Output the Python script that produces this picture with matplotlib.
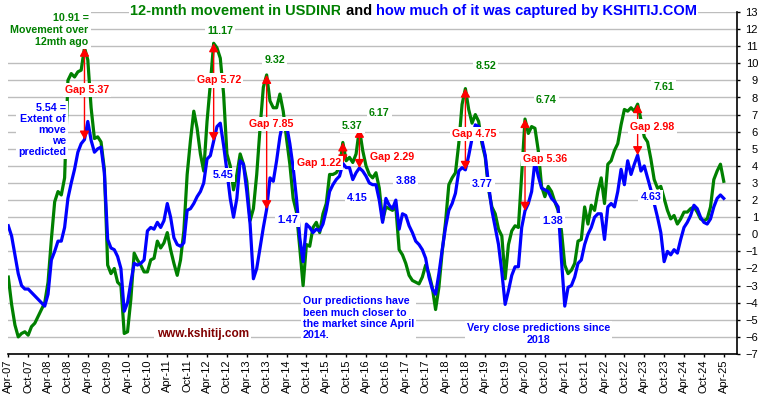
import matplotlib
matplotlib.use('Agg')
import matplotlib.pyplot as plt
import numpy as np

plt.rcParams['font.family'] = ['Liberation Sans', 'DejaVu Sans']

# 12-month movement in USDINR (green), monthly Apr-07 .. Apr-25
movement = [
    -2.5, -4.1, -5.3, -6.0, -5.8, -5.7, -5.9, -5.4, -5.2, -4.8, -4.4, -4.0,
    -2.8, -0.3, 1.9, 2.5, 2.3, 3.3, 9.0, 9.4, 9.2, 9.5, 9.6, 10.91,
    10.2, 7.4, 5.6, 5.7, 5.4, 3.8, -1.8, -2.3, -2.0, -2.8, -3.0, -5.8,
    -5.7, -3.8, -1.1, -1.5, -1.8, -2.2, -2.2, -1.5, -1.4, -0.4, -0.8, -0.5,
    0.1, -0.9, -1.7, -2.4, -1.5, 0.2, 3.5, 5.5, 7.2, 6.2, 4.7, 3.7,
    6.6, 8.8, 11.17, 10.9, 10.3, 8.2, 4.7, 4.0, 2.6, 3.5, 4.7, 4.1,
    3.1, 0.8, 1.5, 3.5, 6.2, 8.6, 9.32, 7.8, 7.4, 7.4, 8.2, 7.2,
    5.6, 4.1, 2.1, 1.3, -0.8, -3.0, -0.6, -0.7, 0.4, 0.7, 0.1, 1.2,
    1.8, 3.5, 3.5, 3.6, 3.9, 5.37, 4.3, 4.5, 4.2, 4.7, 6.17, 4.9,
    4.0, 3.5, 3.3, 3.6, 2.7, 0.8, 1.6, 1.5, 1.4, 1.6, -0.9, -1.2,
    -1.7, -2.4, -2.7, -2.8, -2.9, -2.5, -1.8, -2.3, -3.1, -4.4, -3.1, -1.0,
    0.7, 2.9, 3.3, 3.6, 5.3, 7.6, 8.52, 7.3, 6.5, 7.0, 6.6, 5.3,
    4.5, 2.6, 1.6, 1.2, 0.3, -0.1, -2.6, -0.6, 0.2, 0.5, 0.4, 3.5,
    6.74, 5.9, 6.3, 6.2, 4.9, 2.8, 2.2, 2.8, 2.5, 1.9, 1.4, 0.2,
    -1.8, -2.3, -2.1, -1.7, -0.4, -0.3, 1.6, 0.6, 1.7, 1.4, 2.5, 3.3,
    1.8, 4.1, 4.3, 4.9, 5.3, 6.4, 7.3, 7.2, 7.4, 7.2, 7.61, 6.7,
    5.7, 5.4, 4.4, 3.2, 2.7, 2.8, 2.1, 1.4, 0.9, 1.1, 0.6, 0.9,
    1.3, 1.3, 1.5, 1.6, 1.3, 0.9, 0.8, 0.9, 1.6, 3.2, 3.7, 4.1,
    3.1,
]

# Extent of move predicted by KSHITIJ (blue)
predicted = [
    0.5, -0.1, -1.2, -2.3, -3.0, -3.2, -3.2, -3.4, -3.6, -3.8, -4.0, -4.2,
    -3.5, -1.5, -1.0, -0.4, -0.4, 0.4, 2.1, 3.0, 3.8, 4.8, 5.3, 5.54,
    6.6, 5.5, 4.8, 5.0, 5.1, 3.6, -0.3, -0.8, -0.9, -1.3, -2.0, -4.5,
    -4.0, -2.8, -1.7, -1.8, -1.7, -1.5, 0.2, 0.4, 0.3, 0.7, 0.4, 0.8,
    1.8, 1.0, -0.2, -0.6, -0.7, -0.5, 1.4, 1.5, 1.8, 2.2, 2.5, 3.0,
    4.4, 4.6, 5.45, 6.3, 6.5, 5.2, 3.7, 2.1, 1.0, 2.1, 4.3, 4.1,
    2.5, 0.6, -2.6, -2.0, -0.8, 0.4, 1.47, 3.3, 3.1, 4.3, 5.7, 6.7,
    6.4, 5.3, 3.9, 2.1, -0.2, -1.6, 0.6, 0.4, 0.1, 0.3, 0.2, 0.6,
    1.4, 2.5, 2.9, 3.2, 3.4, 4.15, 3.9, 3.9, 3.2, 3.6, 3.88, 3.7,
    3.4, 3.0, 2.9, 2.9, 2.0, 0.7, 2.1, 1.7, 1.5, 2.0, 0.3, 1.2,
    1.1, 0.5, 0.1, -0.4, -0.6, -0.9, -1.4, -2.5, -3.2, -3.5, -2.3, -0.9,
    0.4, 1.4, 1.8, 2.4, 3.7, 3.9, 3.77, 4.6, 5.6, 6.4, 6.3, 5.5,
    4.6, 2.9, 1.4, 0.4, -0.6, -2.2, -4.1, -3.3, -2.4, -1.9, -1.9, 0.4,
    1.38, 1.8, 2.5, 4.3, 3.4, 2.7, 2.6, 2.5, 2.1, 1.9, 1.6, -1.5,
    -4.2, -3.1, -3.0, -2.5, -1.7, -1.5, -0.6, 0.0, 0.4, 1.0, 1.2, 1.2,
    -0.3, 1.6, 1.8, 1.6, 2.5, 3.8, 2.9, 4.3, 3.5, 4.1, 4.63, 3.7,
    4.0, 3.3, 2.6, 1.8, 1.0, 0.1, -1.6, -1.0, -1.2, -0.9, -1.1, -0.3,
    0.4, 0.7, 1.1, 1.7, 1.5, 1.0, 0.7, 0.6, 0.9, 1.6, 2.1, 2.3,
    2.1,
]

tick_labels = [
    'Apr-07', 'Oct-07', 'Apr-08', 'Oct-08', 'Apr-09', 'Oct-09', 'Apr-10', 'Oct-10',
    'Apr-11', 'Oct-11', 'Apr-12', 'Oct-12', 'Apr-13', 'Oct-13', 'Apr-14', 'Oct-14',
    'Apr-15', 'Oct-15', 'Apr-16', 'Oct-16', 'Apr-17', 'Oct-17', 'Apr-18', 'Oct-18',
    'Apr-19', 'Oct-19', 'Apr-20', 'Oct-20', 'Apr-21', 'Oct-21', 'Apr-22', 'Oct-22',
    'Apr-23', 'Oct-23', 'Apr-24', 'Oct-24', 'Apr-25',
]
y_ticks = list(range(-7, 14))

# peaks where gaps are marked
peak_months = [23, 62, 78, 101, 106, 138, 156, 190]
gap_texts = ['Gap 5.37', 'Gap 5.72', 'Gap 7.85', 'Gap 1.22', 'Gap 2.29',
             'Gap 4.75', 'Gap 5.36', 'Gap 2.98']
gap_pos = [(23.7, 8.44), (63.6, 9.0), (79.5, 6.45), (93.7, 4.15), (116.0, 4.54),
           (140.7, 5.87), (162.0, 4.39), (194.5, 6.3)]

green_texts = ['11.17', '9.32', '5.37', '6.17', '8.52', '6.74', '7.61']
green_pos = [(63.9, 11.9), (80.5, 10.2), (103.9, 6.33), (112.0, 7.08),
             (144.2, 9.84), (162.5, 7.85), (197.8, 8.6)]
blue_texts = ['5.45', '1.47', '4.15', '3.88', '3.77', '1.38', '4.63']
blue_pos = [(64.8, 3.47), (84.4, 0.84), (105.3, 2.1), (120.0, 3.12),
            (143.2, 2.92), (164.3, 0.8), (194.0, 2.16)]

GREEN = '#008000'
BLUE = '#0000FF'
RED = '#FF0000'

W, H = 763, 397
fig = plt.figure(figsize=(W / 100, H / 100), dpi=100)
ax = fig.add_axes([8.3 / W, 43 / H, (737 - 8.3) / W, 342 / H])

months = np.arange(len(movement))
ax.plot(months, movement, color=GREEN, lw=2.3, zorder=3, solid_joinstyle='round')
ax.plot(np.arange(len(predicted)), predicted, color=BLUE, lw=2.3, zorder=4,
        solid_joinstyle='round')

ax.set_xlim(0, 220)
ax.set_ylim(-7, 13)
ax.set_yticks(y_ticks)
ax.set_xticks(np.arange(0, 6 * len(tick_labels), 6))
ax.set_xticklabels(tick_labels, rotation=90, fontsize=8)
ax.grid(axis='y', color='#bdbdbd', lw=1.0)
ax.set_axisbelow(True)
ax.yaxis.tick_right()
ax.tick_params(axis='y', direction='out', length=2.5, width=1, pad=12.6,
               labelsize=8, colors='black')
for lbl in ax.get_yticklabels():
    lbl.set_horizontalalignment('right')
ax.tick_params(axis='x', direction='out', length=2.5, width=1, pad=1.5)
for s in ['left', 'top']:
    ax.spines[s].set_visible(False)
for s in ['bottom', 'right']:
    ax.spines[s].set_color('black')
    ax.spines[s].set_linewidth(1.2)

box = dict(boxstyle='square,pad=0.2', facecolor='white', edgecolor='none')
FS = 7.7

# arrows
for m in peak_months:
    ax.annotate('', xy=(m, movement[m]), xytext=(m, predicted[m]),
                arrowprops=dict(arrowstyle='<|-|>,head_length=0.5,head_width=0.28',
                                color=RED, lw=1.0, shrinkA=0, shrinkB=0,
                                mutation_scale=10), zorder=5)

for t, (x, y) in zip(gap_texts, gap_pos):
    ax.text(x, y, t, color=RED, fontsize=FS, fontweight='bold', ha='center',
            va='center', bbox=box, zorder=6)
for t, (x, y) in zip(green_texts, green_pos):
    ax.text(x, y, t, color=GREEN, fontsize=FS, fontweight='bold', ha='center',
            va='center', bbox=box, zorder=6)
for t, (x, y) in zip(blue_texts, blue_pos):
    ax.text(x, y, t, color=BLUE, fontsize=FS, fontweight='bold', ha='center',
            va='center', bbox=box, zorder=6)

ax.text(24.2, 11.95, '10.91 =\nMovement over\n12mth ago', color=GREEN, fontsize=FS,
        fontweight='bold', ha='right', va='center', multialignment='right',
        linespacing=1.25, bbox=box, zorder=6)
ax.text(17.4, 6.1, '5.54 =\nExtent of\nmove\nwe\npredicted', color=BLUE, fontsize=FS,
        fontweight='bold', ha='right', va='center', multialignment='right',
        linespacing=1.12, bbox=box, zorder=6)
ax.text(58.7, -5.83, 'www.kshitij.com', color='#800000', fontsize=8.5,
        fontweight='bold', ha='center', va='center', bbox=box, zorder=6)
ax.text(89.0, -4.91, 'Our predictions have\nbeen much closer to\nthe market since April\n2014.',
        color=BLUE, fontsize=FS, fontweight='bold', ha='left', va='center',
        multialignment='left', linespacing=1.15, bbox=box, zorder=6)
ax.text(160.1, -5.83, 'Very close predictions since\n2018', color=BLUE, fontsize=FS,
        fontweight='bold', ha='center', va='center', multialignment='center',
        linespacing=1.15, bbox=box, zorder=6)

# title in three colours
title_parts = ['12-mnth movement in USDINR', ' and ', 'how much of it was captured by KSHITIJ.COM']
title_colors = [GREEN, 'black', BLUE]
tbox = dict(boxstyle='square,pad=0.1', facecolor='white', edgecolor='none')
t1 = fig.text(130 / W, 1 - 11 / H, title_parts[0], color=title_colors[0], fontsize=10.5,
              fontweight='bold', ha='left', va='center', bbox=tbox)
t2 = fig.text(0, 0, title_parts[1], color=title_colors[1], fontsize=10.5,
              fontweight='bold', ha='left', va='center', bbox=tbox)
t3 = fig.text(0, 0, title_parts[2], color=title_colors[2], fontsize=10.5,
              fontweight='bold', ha='left', va='center', bbox=tbox)
fig.canvas.draw()
r = fig.canvas.get_renderer()
w1 = t1.get_window_extent(r).width
w2 = t2.get_window_extent(r).width
w3 = t3.get_window_extent(r).width
total = w1 + w2 + w3
x0 = 413.7 - total / 2
yc = 1 - 11 / H
t1.set_position((x0 / W, yc))
t2.set_position(((x0 + w1) / W, yc))
t3.set_position(((x0 + w1 + w2) / W, yc))

fig.savefig('out.png', dpi=100)
